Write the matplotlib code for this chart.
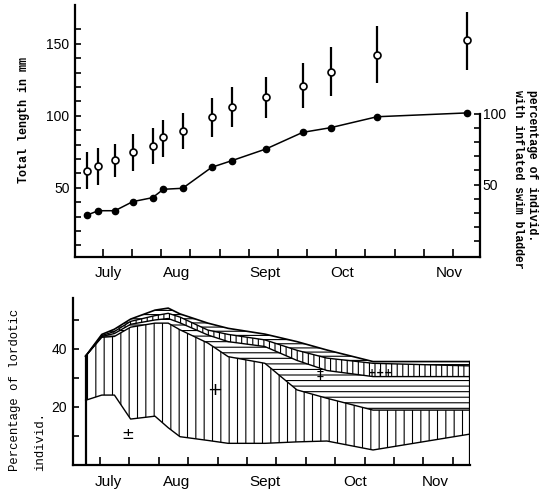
import numpy as np
import matplotlib.pyplot as plt

# sampling dates, in days counted from 1 July
days = [4.6, 8.4, 14.1, 20.2, 27.0, 30.7, 37.3, 47.3, 54.1, 65.9, 78.5, 88.1, 104.0, 135.0]
length_mean = [62.0, 65.3, 69.4, 75.2, 79.2, 85.2, 89.6, 99.5, 106.5, 113.0, 120.8, 130.8, 142.4, 152.8]
length_low = [49.1, 52.1, 57.6, 62.0, 66.7, 71.7, 76.9, 85.6, 92.2, 98.4, 105.3, 113.9, 123.1, 131.9]
length_high = [75.2, 77.8, 80.6, 87.5, 91.7, 97.2, 102.1, 112.3, 119.9, 126.9, 136.6, 148.1, 162.5, 172.4]
pct_inflated = [28.6, 31.6, 31.6, 38.0, 40.8, 46.7, 47.4, 62.2, 66.8, 75.1, 86.8, 90.1, 97.8, 100.5]

# lordosis grades, cumulative percentages (upper edge of each grade)
lord_days = [5.1, 10.6, 14.9, 20.4, 28.7, 33.2, 37.2, 46.7, 53.6, 66.1, 77.0, 87.2, 102.9, 135.9]
cum_pm = [22.2, 24.0, 24.0, 15.7, 16.7, 12.7, 9.6, 8.3, 7.3, 7.3, 7.8, 8.1, 5.0, 10.5]
cum_p1 = [37.5, 44.0, 44.3, 47.5, 48.9, 48.9, 46.6, 42.0, 37.3, 35.0, 25.8, 22.9, 18.8, 18.8]
cum_p2 = [37.5, 44.3, 45.3, 48.5, 50.0, 50.5, 49.0, 44.8, 42.5, 40.8, 36.0, 32.5, 30.4, 30.4]
cum_p3 = [37.5, 44.6, 46.0, 49.5, 51.5, 52.3, 51.0, 46.5, 45.0, 43.1, 39.5, 36.8, 35.0, 34.1]
cum_p4 = [37.5, 45.0, 46.8, 50.3, 53.4, 54.1, 52.1, 48.9, 47.1, 45.1, 42.5, 39.6, 35.6, 35.6]

months = ['July', 'Aug', 'Sept', 'Oct', 'Nov']
month_pos_top = [11.7, 35.4, 65.5, 91.9, 128.6]
month_pos_bot = [12.7, 36.2, 66.1, 96.8, 124.0]

plt.rcParams['hatch.linewidth'] = 0.8
mono = 'Liberation Mono'
sans = 'Liberation Sans'

fig = plt.figure(figsize=(5.5, 5.01), dpi=100)

# ---- upper panel: length and swim bladder
ax1 = fig.add_axes([75/550, 1 - 257/501, 405/550, 252/501])
ax1.errorbar(days, length_mean,
             yerr=[np.subtract(length_mean, length_low), np.subtract(length_high, length_mean)],
             fmt='o', ms=5, mfc='white', mec='k', mew=1.2, ecolor='k', elinewidth=1.6, capsize=0)
ax1.set_xlim(0.4, 139.3)
ax1.set_ylim(2, 177)
ax1.set_xticks(np.arange(10, 131, 10))
ax1.set_xticklabels([])
yt = np.arange(10, 161, 10)
ax1.set_yticks(yt)
ax1.set_yticklabels([str(v) if v % 50 == 0 else '' for v in yt], fontfamily=sans, fontsize=10)
ax1.tick_params(direction='in', length=4, width=1.2, pad=4)
ax1.tick_params(axis='x', length=6)
for s in ['top', 'right']:
    ax1.spines[s].set_visible(False)
for s in ['left', 'bottom']:
    ax1.spines[s].set_linewidth(1.6)

ax2 = ax1.twinx()
ax2.plot(days, pct_inflated, '-o', color='k', ms=4.5, lw=1.1)
ax2.set_ylim(-1, 176.5)
ax2.set_yticks(np.arange(10, 101, 10))
ax2.set_yticklabels([str(v) if v % 50 == 0 else '' for v in range(10, 101, 10)],
                    fontfamily=sans, fontsize=10)
ax2.tick_params(direction='in', length=4, width=1.2, pad=2)
for s in ['top', 'left', 'bottom']:
    ax2.spines[s].set_visible(False)
ax2.spines['right'].set_linewidth(1.6)
ax2.spines['right'].set_bounds(-1, 100)

for m, x in zip(months, month_pos_top):
    ax1.annotate(m, (x, -0.063), xycoords=('data', 'axes fraction'),
                 ha='center', va='center', fontfamily=sans, fontsize=11)

fig.text(24/550, 1 - 120/501, 'Total length in mm', rotation=90, ha='center', va='center',
         fontfamily=mono, fontweight='bold', fontsize=8.5)
fig.text(532/550, 1 - 90/501, 'percentage of individ.', rotation=-90, ha='center', va='top',
         fontfamily=mono, fontweight='bold', fontsize=8.3)
fig.text(518/550, 1 - 90/501, 'with inflated swim bladder', rotation=-90, ha='center', va='top',
         fontfamily=mono, fontweight='bold', fontsize=8.3)

# ---- lower panel: lordotic individuals
ax3 = fig.add_axes([72.7/550, 1 - 465/501, 397.3/550, 167/501])
zero = np.zeros(len(lord_days))
ax3.fill_between(lord_days, zero, cum_pm, facecolor='none', lw=0)
ax3.fill_between(lord_days, cum_pm, cum_p1, facecolor='none', edgecolor='k', hatch='||', lw=0)
ax3.fill_between(lord_days, cum_p1, cum_p2, facecolor='none', edgecolor='k', hatch='---', lw=0)
ax3.fill_between(lord_days, cum_p2, cum_p3, facecolor='none', edgecolor='k', hatch='|||', lw=0)
ax3.fill_between(lord_days, cum_p3, cum_p4, facecolor='none', edgecolor='k', hatch='----', lw=0)
for cum in [cum_pm, cum_p1, cum_p2, cum_p3]:
    ax3.plot(lord_days, cum, color='k', lw=1.0)
ax3.plot(lord_days, cum_p4, color='k', lw=1.2)
ax3.plot([lord_days[0], lord_days[0]], [0, cum_p4[0]], color='k', lw=1.6)
ax3.plot([lord_days[-1], lord_days[-1]], [0, cum_p4[-1]], color='k', lw=1.6)

ax3.text(19.5, 10.5, '±', ha='center', va='center', fontsize=11)
ax3.text(49.1, 25.8, '+', ha='center', va='center', fontsize=13)
ax3.text(84.9, 31.0, '‡', ha='center', va='center', fontsize=10)
ax3.text(105.5, 31.6, '+++', ha='center', va='center', fontsize=7, fontweight='bold')

ax3.set_xlim(0.7, 135.9)
ax3.set_ylim(-0.2, 57.6)
ax3.set_xticks(np.arange(10, 131, 10))
ax3.set_xticklabels([])
yt3 = np.arange(10, 51, 10)
ax3.set_yticks(yt3)
ax3.set_yticklabels([str(v) if v % 20 == 0 else '' for v in yt3], fontfamily=sans, fontsize=10)
ax3.tick_params(direction='in', length=4, width=1.2, pad=4)
ax3.tick_params(axis='x', length=6)
for s in ['top', 'right']:
    ax3.spines[s].set_visible(False)
for s in ['left', 'bottom']:
    ax3.spines[s].set_linewidth(1.6)

for m, x in zip(months, month_pos_bot):
    ax3.annotate(m, (x, -0.1), xycoords=('data', 'axes fraction'),
                 ha='center', va='center', fontfamily=sans, fontsize=11)

fig.text(15/550, 1 - 471/501, 'Percentage of lordotic', rotation=90, ha='center', va='bottom',
         fontfamily=mono, fontsize=8.8)
fig.text(40/550, 1 - 471/501, 'individ.', rotation=90, ha='center', va='bottom',
         fontfamily=mono, fontsize=8.8)

fig.savefig('out.png', dpi=100)
